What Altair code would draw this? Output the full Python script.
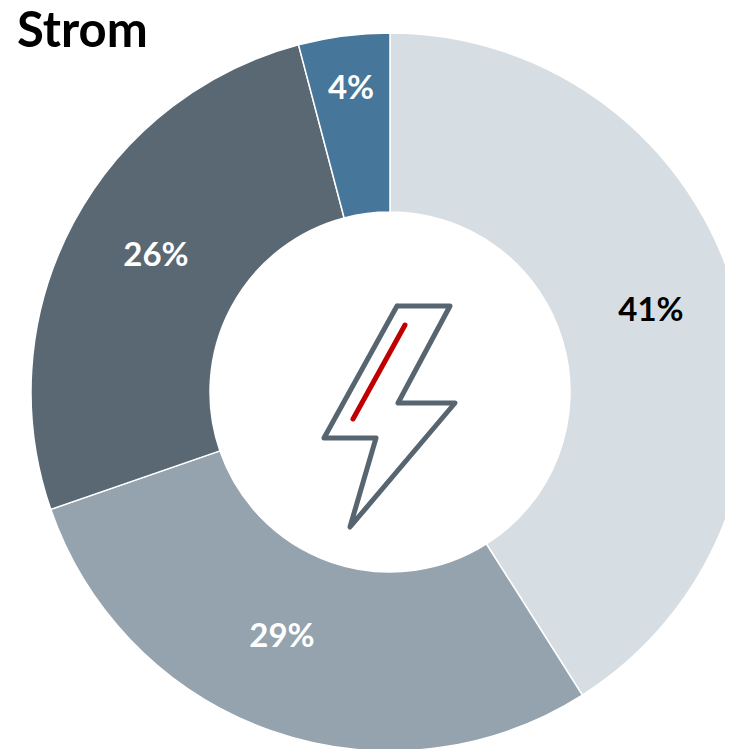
import altair as alt
import pandas as pd

labels = ["41%", "29%", "26%", "4%"]
values = [41.0, 28.7, 26.2, 4.1]
colors = ["#d7dee3", "#95a3ae", "#596873", "#46769a"]
text_colors = ["#000000", "#ffffff", "#ffffff", "#ffffff"]
label_x = [643, 274, 148, 343]
label_y = [303, 629, 248, 81]
bolt_x = [389, 442, 390, 447, 342, 368, 316]
bolt_y = [298, 298, 395, 395, 519, 430, 430]
stroke_x = [397, 345]
stroke_y = [317, 411]
title_text = ["Strom"]

W, H = 717, 741
sx = alt.Scale(domain=[0, W], range=[0, W])
sy = alt.Scale(domain=[0, H], range=[0, H])

df = pd.DataFrame({"i": range(4), "label": labels, "v": values, "c": colors,
                   "tc": text_colors, "x": label_x, "y": label_y})
arcs = alt.Chart(df).mark_arc(stroke="white", strokeWidth=1.5).encode(
    theta=alt.Theta("v:Q", stack=True, scale=alt.Scale(domain=[0, sum(values)], range=[0, 6.28318530718])),
    order=alt.Order("i:Q"),
    color=alt.Color("c:N", scale=None),
    radius=alt.value(359),
    radius2=alt.value(180),
    x=alt.value(382),
    y=alt.value(384),
)
text = alt.Chart(df).mark_text(font="Lato", fontSize=33, fontWeight="bold").encode(
    x=alt.X("x:Q", scale=sx, axis=None),
    y=alt.Y("y:Q", scale=sy, axis=None),
    text="label:N",
    color=alt.Color("tc:N", scale=None),
)
bolt_df = pd.DataFrame({"o": range(8), "x": bolt_x + bolt_x[:1], "y": bolt_y + bolt_y[:1]})
bolt = alt.Chart(bolt_df).mark_line(color="#566570", strokeWidth=5, strokeJoin="round", strokeCap="round").encode(
    x=alt.X("x:Q", scale=sx, axis=None),
    y=alt.Y("y:Q", scale=sy, axis=None),
    order="o:Q",
)
stroke_df = pd.DataFrame({"o": range(2), "x": stroke_x, "y": stroke_y})
red = alt.Chart(stroke_df).mark_line(color="#c00000", strokeWidth=5, strokeCap="round").encode(
    x=alt.X("x:Q", scale=sx, axis=None),
    y=alt.Y("y:Q", scale=sy, axis=None),
    order="o:Q",
)
title = alt.Chart(pd.DataFrame({"t": title_text, "x": [9], "y": [24]})).mark_text(
    font="Lato", fontSize=49, fontWeight="bold", align="left", color="black").encode(
    x=alt.X("x:Q", scale=sx, axis=None),
    y=alt.Y("y:Q", scale=sy, axis=None),
    text="t:N",
)
chart = (arcs + text + bolt + red + title).resolve_scale(color="independent").properties(
    width=W, height=H, padding=0, background="white",
    autosize=alt.AutoSizeParams(type="none"),
).configure_view(stroke=None)
chart.save("out.html", embed_options={"renderer": "svg", "actions": False})
